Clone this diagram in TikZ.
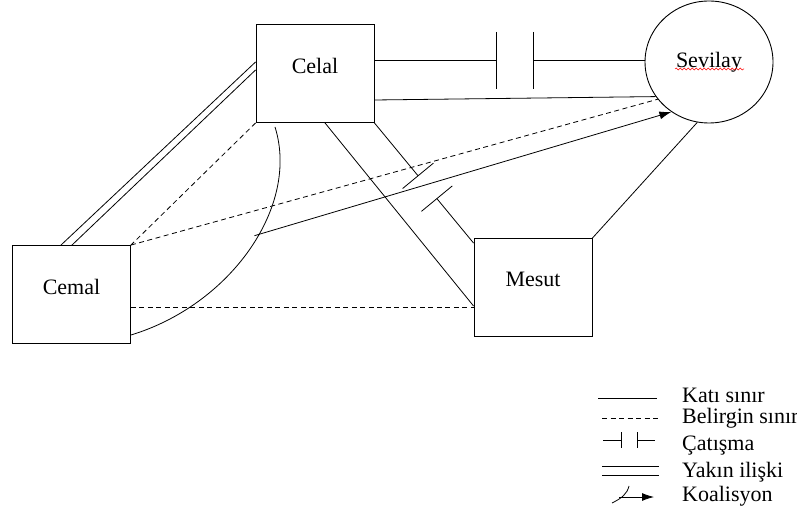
\documentclass[tikz,border=0pt]{standalone}
\usepackage{fontspec}
\setmainfont{Liberation Serif}
\usetikzlibrary{calc}
\usetikzlibrary{shapes.geometric}
\usetikzlibrary{arrows.meta}
\usetikzlibrary{decorations.pathmorphing}
\begin{document}
\begin{tikzpicture}[x=1pt, y=-1pt,
		every node/.style={font=\fontsize{22}{26}\selectfont},
		kutu/.style={draw, rectangle, minimum width=118pt,
			minimum height=98pt, text depth=16pt, line width=0.9pt},
		cember/.style={draw, ellipse, minimum width=128pt,
			minimum height=122pt, line width=0.9pt},
		kati/.style={line width=0.8pt},
		belirgin/.style={line width=0.8pt, dash pattern=on 5pt off 3.5pt},
		koal/.style={line width=0.8pt, -{Latex[length=12pt,width=8pt]}},
		aciklama/.style={anchor=base west, inner sep=0pt}]
		\useasboundingbox (0,0) rectangle (797,518);
		%% Kisiler
		\node [kutu] at (315,73.5) (Celal) {Celal};
		\node [kutu] at (71.5,294.5) (Cemal) {Cemal};
		\node [kutu] at (533,287.5) (Mesut) {Mesut};
		\node [cember] at (709,62) (Sevilay) {Sevilay};
		\draw [red, line width=0.5pt, decorate,
			decoration={snake, amplitude=1pt, segment length=4pt}]
			([xshift=-34pt,yshift=-7pt]Sevilay.center) -- ++(69,0);
		%% Sinirlar
		\draw [kati] ([yshift=13.5pt]Celal.east) -- ++(122,0) coordinate (c1);
		\draw [kati] (c1) ++(0,-28) -- ++(0,57);
		\draw [kati] (c1) ++(37,-28) -- ++(0,57);
		\draw [kati] (c1) ++(37,0) coordinate (c2) -- (c2 -| Sevilay.west);
		\draw [kati] ([yshift=-26.5pt]Celal.east) -- (Sevilay.213);
		\draw [belirgin] (Cemal.north east) -- (Sevilay.216);
		\draw [kati] (Mesut.north east) -- (Sevilay.259);
		% yakin iliski
		\draw [kati] ([xshift=-10.5pt]Cemal.north) -- ([yshift=11.5pt]Celal.west);
		\draw [kati] ([xshift=0.5pt]Cemal.north) -- ([yshift=3.5pt]Celal.west);
		\draw [belirgin] (Celal.south west) -- (Cemal.north east);
		\draw [belirgin] ([yshift=-12.5pt]Cemal.east) coordinate (d0) -- (d0 -| Mesut.west);
		\draw [kati] ([xshift=10pt]Celal.south) -- ([yshift=-18.5pt]Mesut.west);
		% catisma Celal - Mesut
		\coordinate (m0) at ([yshift=-5pt]Mesut.north west);
		\coordinate (b1) at ($(Celal.south east)!0.44!(m0)$);
		\coordinate (b2) at ($(Celal.south east)!0.63!(m0)$);
		\draw [kati] (Celal.south east) -- (b1);
		\draw [kati] ($(b1)!20pt!90:(m0)$) -- ($(b1)!20pt!-90:(m0)$);
		\draw [kati] ($(b2)!20pt!90:(m0)$) -- ($(b2)!20pt!-90:(m0)$);
		\draw [kati] (b2) -- (m0);
		%% Koalisyon
		\draw [kati] ([xshift=-40pt,yshift=-4pt]Celal.south)
			.. controls +(25,80) and +(99,-30) .. ([yshift=-40.5pt]Cemal.east)
			coordinate [pos=0.44] (k);
		\draw [koal] ([xshift=-4pt]k) -- (Sevilay.233);
		%% Aciklama
		\node [aciklama] at (682,402) (lgKati) {Katı sınır};
		\node [aciklama] at (682,423) (lgBelirgin) {Belirgin sınır};
		\node [aciklama] at (682,450) (lgCatisma) {Çatışma};
		\node [aciklama] at (682,477) (lgYakin) {Yakın ilişki};
		\node [aciklama] at (682,501) (lgKoal) {Koalisyon};
		\draw [kati] (598,398) -- (657,398);
		\draw [belirgin] (602,418) -- (660,418);
		\draw [kati] (603,440) -- (621,440) (621,432) -- (621,448)
			(637,432) -- (637,448) (637,440) -- (655,440);
		\draw [kati] (602,466) -- (659,466) (602,475) -- (659,475);
		\draw [kati] (612,503) .. controls +(10,-5) and +(-2,8) .. (629,486);
		\draw [koal] (619,497) -- (654,497);
	\end{tikzpicture}
\end{document}
